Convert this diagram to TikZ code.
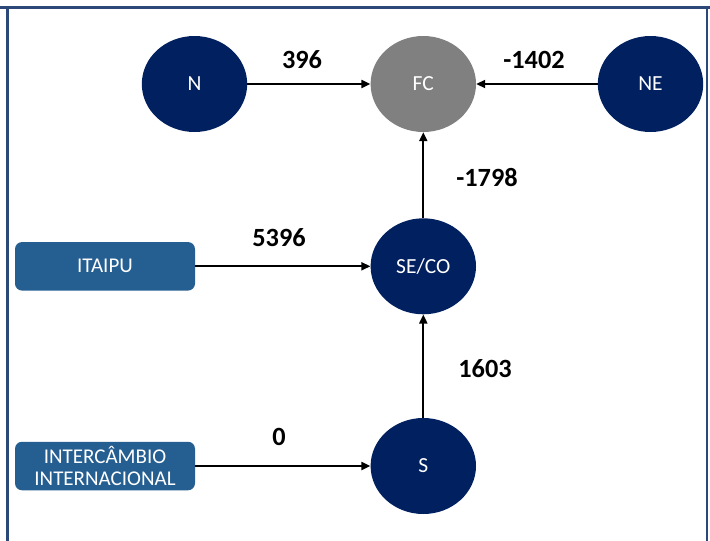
\documentclass[tikz,border=0pt]{standalone}
\usepackage{fontspec}
\setmainfont{Carlito}
\usetikzlibrary{shapes.geometric,arrows.meta}
\definecolor{navy}{HTML}{002060}
\definecolor{boxblue}{HTML}{255E91}
\definecolor{fcgray}{HTML}{808080}
\definecolor{framec}{HTML}{2B4878}
\tikzset{
  region/.style={ellipse, fill=navy, text=white, minimum width=105.4pt, minimum height=96pt, inner sep=0pt, font=\fontsize{21.5}{25}\selectfont},
  sourcebox/.style={rectangle, rounded corners=7pt, fill=boxblue, text=white, minimum width=180pt, minimum height=48.5pt, inner sep=0pt, align=center, font=\fontsize{21}{22.5}\selectfont},
  flow/.style={draw=black, line width=1.9pt, -{Triangle[length=9pt,width=8pt]}},
  val/.style={font=\fontsize{26.3}{30}\selectfont\bfseries, inner sep=0pt},
  framel/.style={draw=framec, line width=2.6pt}
}
\begin{document}
\begin{tikzpicture}[x=1pt,y=-1pt]
\useasboundingbox (0,0) rectangle (710,541);
\fill[white] (0,0) rectangle (710,541);
% frame
\draw[framel] (0,7.3) -- (710,7.3);
\draw[framel] (7.3,7.3) -- (7.3,541);
\draw[framel] (707,7.3) -- (707,541);
% nodes
\node[region] (N) at (194.5,84) {N};
\node[region, fill=fcgray] (FC) at (423.3,84) {FC};
\node[region] (NE) at (650.5,84) {NE};
\node[region] (SECO) at (423.3,266.3) {SE/CO};
\node[region] (S) at (423.3,466) {S};
\node[sourcebox] (ITAIPU) at (105,266.3) {ITAIPU};
\node[sourcebox] (INTER) at (105,466) {INTERCÂMBIO\\INTERNACIONAL};
% connectors
\draw[flow] (N) -- (FC);
\draw[flow] (NE) -- (FC);
\draw[flow] (SECO) -- (FC);
\draw[flow] (S) -- (SECO);
\draw[flow] (ITAIPU.east) -- (SECO);
\draw[flow] (INTER.east) -- (S);
% labels
\node[val] (l396) at (302,60) {396};
\node[val] (l1402) at (534,60) {-1402};
\node[val] (l1798) at (487,178) {-1798};
\node[val] (l5396) at (279,238) {5396};
\node[val] (l1603) at (485,369) {1603};
\node[val] (l0) at (279,437) {0};
\end{tikzpicture}
\end{document}
